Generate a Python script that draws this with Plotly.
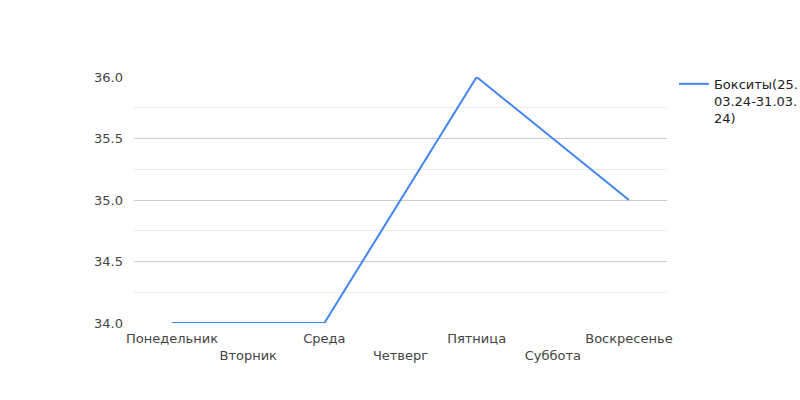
import plotly.graph_objects as go

days = ["Понедельник", "Вторник", "Среда", "Четверг", "Пятница", "Суббота", "Воскресенье"]
values = [34, None, 34, None, 36, None, 35]
series_name = "Бокситы(25.<br>03.24-31.03.<br>24)"
y_ticks = [34.0, 34.5, 35.0, 35.5, 36.0]

tick_text = [d if i % 2 == 0 else "<br>" + d for i, d in enumerate(days)]

fig = go.Figure()
fig.add_trace(go.Scatter(
    x=list(range(len(days))), y=values, mode="lines", name=series_name,
    connectgaps=True, line=dict(color="#4285F4", width=2),
))

fig.update_layout(
    width=800, height=400,
    margin=dict(l=134, r=133, t=77, b=77, autoexpand=False),
    paper_bgcolor="white", plot_bgcolor="white",
    font=dict(family="DejaVu Sans", size=13, color="#444"),
    showlegend=True,
    legend=dict(x=1.013, xanchor="left", y=1.033, yanchor="top", valign="top",
                font=dict(size=13, color="#222"), bgcolor="rgba(0,0,0,0)",
                tracegroupgap=0),
    xaxis=dict(
        range=[-0.5, 6.5], tickmode="array", tickvals=list(range(len(days))),
        ticktext=tick_text, tickangle=0, showgrid=False, zeroline=False, showline=False,
        ticks="", fixedrange=True, automargin=False, ticklabelstandoff=6,
    ),
    yaxis=dict(
        range=[34, 36], tickmode="array", tickvals=y_ticks,
        ticktext=[f"{v:.1f}" for v in y_ticks],
        showgrid=True, gridcolor="#cccccc", gridwidth=1,
        minor=dict(tickmode="linear", tick0=34, dtick=0.25, showgrid=True, gridcolor="#ebebeb"),
        zeroline=False, showline=False, ticks="", ticklabelstandoff=10, automargin=False,
    ),
)

fig.write_html("out.html")
